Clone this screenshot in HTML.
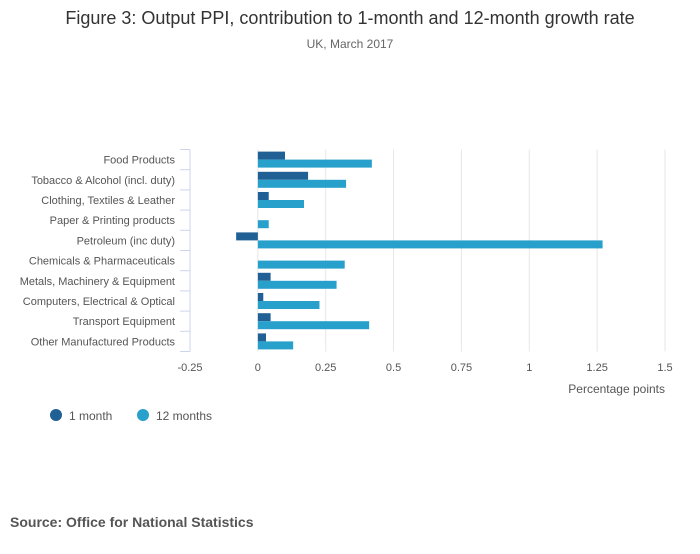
<!DOCTYPE html>
<html><head><meta charset="utf-8">
<style>
body{margin:0;background:#fff;font-family:"Liberation Sans",sans-serif;}
svg text{font-family:"Liberation Sans",sans-serif;}
</style></head>
<body>
<svg width="700" height="549" xmlns="http://www.w3.org/2000/svg">
<text x="350" y="24" text-anchor="middle" font-size="18" fill="#333">Figure 3: Output PPI, contribution to 1-month and 12-month growth rate</text>
<text x="350" y="48" text-anchor="middle" font-size="12" fill="#666">UK, March 2017</text>
<g id="grid"></g>
<g id="bars"></g>
<g id="yaxis"></g>
<g id="xaxis"></g>
<text x="665" y="393" text-anchor="end" font-size="12" fill="#555">Percentage points</text>
<g>
<g><circle cx="56" cy="415" r="6" fill="#206095"/><text x="69" y="420" font-size="12" fill="#555">1 month</text></g>
<g><circle cx="143" cy="415" r="6" fill="#27a0cc"/><text x="156" y="420" font-size="12" fill="#555">12 months</text></g>
</g>
<text x="10" y="527" font-size="14" font-weight="bold" fill="#555">Source: Office for National Statistics</text>
</svg>
<script>
const categories=["Food Products","Tobacco & Alcohol (incl. duty)","Clothing, Textiles & Leather","Paper & Printing products","Petroleum (inc duty)","Chemicals & Pharmaceuticals","Metals, Machinery & Equipment","Computers, Electrical & Optical","Transport Equipment","Other Manufactured Products"];
const oneMonth=[0.1,0.185,0.04,0,-0.08,0,0.047,0.02,0.047,0.03];
const twelveMonths=[0.42,0.325,0.17,0.04,1.27,0.32,0.29,0.227,0.41,0.13];
const xTicks=[-0.25,0,0.25,0.5,0.75,1,1.25,1.5];
const xTickLabels=["-0.25","0","0.25","0.5","0.75","1","1.25","1.5"];
const NS="http://www.w3.org/2000/svg";
const x0=190,x1=665,topY=149.5,band=20.2;
function xs(v){return x0+(v+0.25)/1.75*(x1-x0);}
function mk(tag,attrs,parent){const e=document.createElementNS(NS,tag);for(const k in attrs)e.setAttribute(k,attrs[k]);document.getElementById(parent).appendChild(e);return e;}
const bottomY=topY+band*categories.length;
xTicks.forEach((t,i)=>{
  if(i>0){const l=mk('line',{x1:xs(t),x2:xs(t),y1:topY,y2:bottomY,stroke:'#e6e6e6','stroke-width':1},'grid');
  
  }
  const tx=mk('text',{x:xs(t),y:371,'text-anchor':'middle','font-size':11,fill:'#555'},'xaxis');
  tx.textContent=xTickLabels[i];
  
  
});
mk('line',{x1:x0,x2:x0,y1:topY,y2:bottomY,stroke:'#ccd6eb','stroke-width':1},'yaxis');
for(let i=0;i<=categories.length;i++){mk('line',{x1:x0-10,x2:x0,y1:topY+i*band,y2:topY+i*band,stroke:'#ccd6eb','stroke-width':1},'yaxis');}
categories.forEach((c,i)=>{
  const yc=topY+i*band+band/2;
  const t=mk('text',{x:175,y:yc+4,'text-anchor':'end','font-size':11,fill:'#555'},'yaxis');
  t.textContent=c;
  
  
  const a=oneMonth[i],b=twelveMonths[i];
  const r1=mk('rect',{x:Math.min(xs(0),xs(a)),y:yc-8,width:Math.abs(xs(a)-xs(0)),height:8,fill:'#206095'},'bars');
  
  
  const r2=mk('rect',{x:Math.min(xs(0),xs(b)),y:yc,width:Math.abs(xs(b)-xs(0)),height:8,fill:'#27a0cc'},'bars');
  
  
});
</script>
</body></html>
